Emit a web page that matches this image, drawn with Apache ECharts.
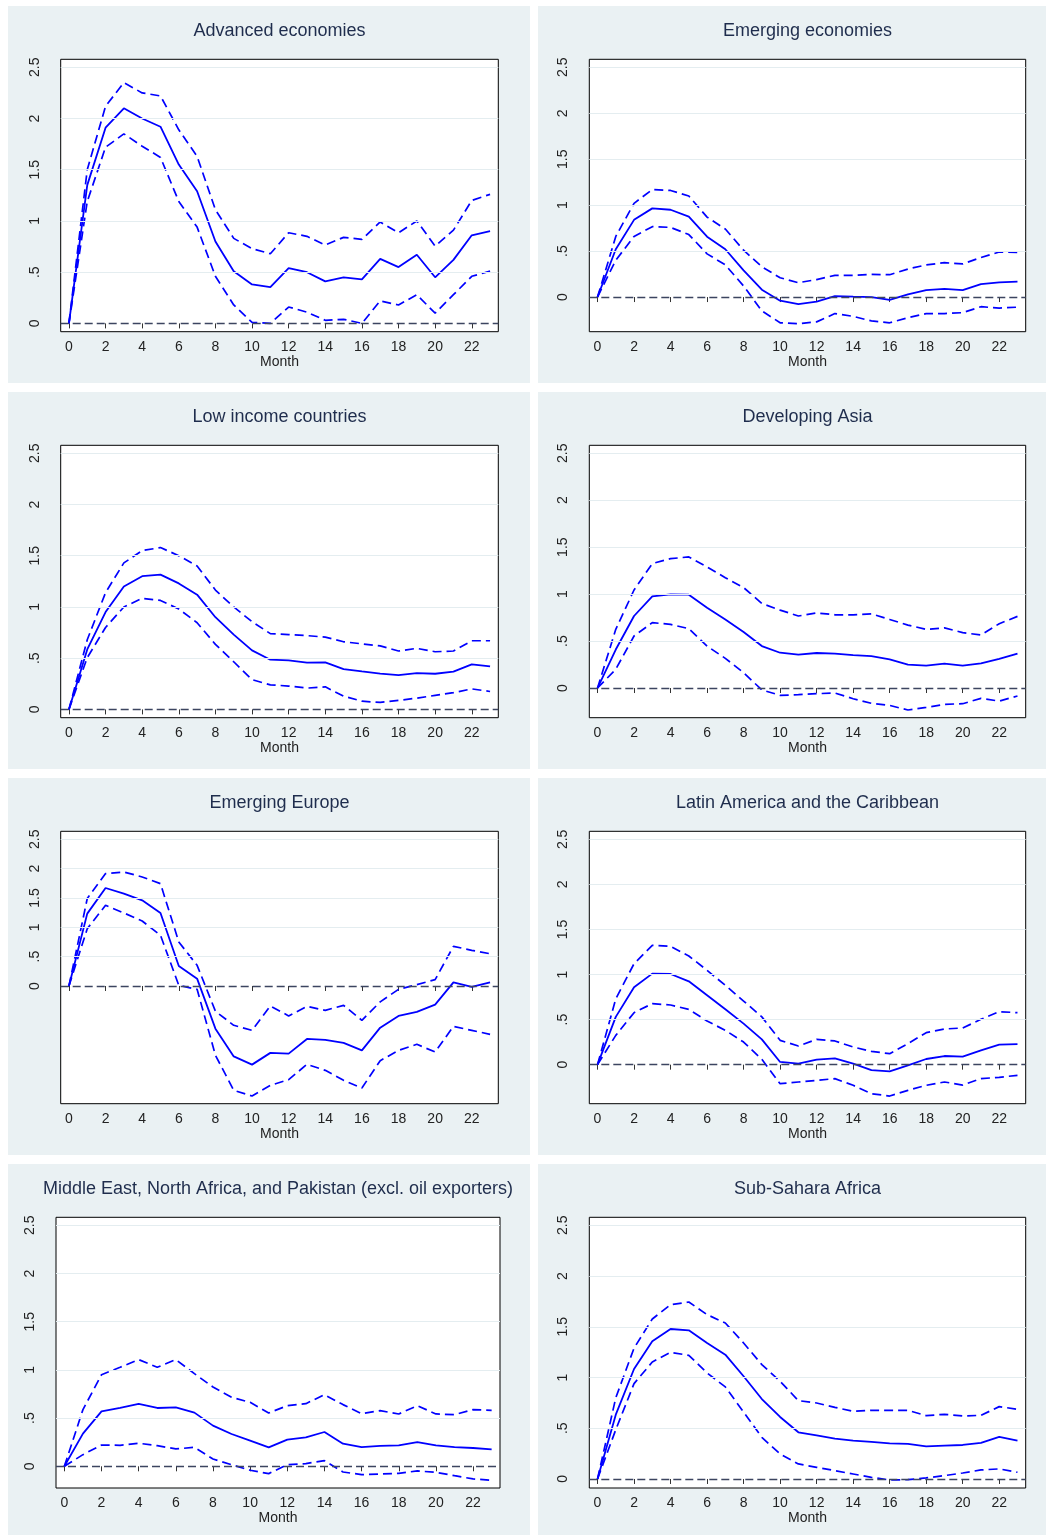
<!DOCTYPE html>
<html>
<head>
<meta charset="utf-8">
<script src="https://cdn.jsdelivr.net/npm/echarts@6/dist/echarts.min.js"></script>
<style>
  html, body { margin: 0; padding: 0; background: #ffffff; }
  #wrap { position: relative; width: 1046px; height: 1535px; }
  .panel { position: absolute; background: #eaf1f3; }
  #chart { position: absolute; left: 0; top: 0; width: 1046px; height: 1535px; }
</style>
</head>
<body>
<div id="wrap"><div id="chart"></div></div>
<script>
// ---------------- DATA ----------------
const months = [0,1,2,3,4,5,6,7,8,9,10,11,12,13,14,15,16,17,18,19,20,21,22,23];
const xTickValues = [0,2,4,6,8,10,12,14,16,18,20,22];
const yTickValues = [0,0.5,1,1.5,2,2.5];
const xAxisTitle = 'Month';

const panelTitles = [
  'Advanced economies',
  'Emerging economies',
  'Low income countries',
  'Developing Asia',
  'Emerging Europe',
  'Latin America and the Caribbean',
  'Middle East, North Africa, and Pakistan (excl. oil exporters)',
  'Sub-Sahara Africa'
];

// Advanced economies
const advPoint = [0,1.35,1.91,2.10,2.00,1.92,1.55,1.29,0.80,0.51,0.38,0.355,0.54,0.50,0.41,0.45,0.43,0.63,0.55,0.67,0.45,0.62,0.86,0.90];
const advUpper = [0,1.50,2.12,2.35,2.25,2.22,1.89,1.63,1.11,0.83,0.73,0.68,0.885,0.85,0.765,0.84,0.82,0.99,0.885,1.00,0.755,0.91,1.20,1.26];
const advLower = [0,1.19,1.72,1.85,1.73,1.62,1.19,0.94,0.46,0.18,0.01,0.00,0.16,0.11,0.03,0.04,0.00,0.22,0.18,0.28,0.10,0.28,0.46,0.51];

// Emerging economies
const emePoint = [0,0.52,0.84,0.965,0.95,0.875,0.657,0.52,0.29,0.08,-0.04,-0.076,-0.05,0.01,0.004,0.0,-0.03,0.03,0.076,0.09,0.076,0.14,0.16,0.167];
const emeUpper = [0,0.66,1.02,1.17,1.16,1.10,0.87,0.74,0.51,0.33,0.21,0.156,0.19,0.236,0.236,0.247,0.243,0.305,0.35,0.374,0.36,0.43,0.49,0.486];
const emeLower = [0,0.40,0.66,0.766,0.758,0.68,0.47,0.35,0.12,-0.15,-0.28,-0.29,-0.27,-0.18,-0.21,-0.26,-0.28,-0.225,-0.18,-0.18,-0.17,-0.105,-0.12,-0.11];

// Low income countries
const licPoint = [0,0.585,0.95,1.20,1.30,1.315,1.23,1.12,0.90,0.73,0.576,0.485,0.478,0.456,0.459,0.394,0.371,0.35,0.335,0.355,0.348,0.368,0.44,0.42];
const licUpper = [0,0.68,1.14,1.43,1.55,1.58,1.50,1.40,1.165,1.00,0.856,0.74,0.73,0.72,0.706,0.66,0.64,0.62,0.57,0.596,0.563,0.57,0.67,0.67];
const licLower = [0,0.505,0.80,1.00,1.084,1.064,0.98,0.846,0.635,0.465,0.29,0.24,0.228,0.208,0.22,0.13,0.08,0.068,0.088,0.11,0.137,0.163,0.20,0.175];

// Developing Asia
const asiaPoint = [0,0.41,0.767,0.977,0.998,0.994,0.856,0.73,0.597,0.447,0.376,0.355,0.373,0.366,0.35,0.34,0.305,0.25,0.238,0.26,0.238,0.263,0.31,0.366];
const asiaUpper = [0,0.625,1.044,1.325,1.378,1.396,1.29,1.175,1.07,0.90,0.83,0.767,0.80,0.78,0.78,0.79,0.73,0.67,0.625,0.64,0.59,0.565,0.685,0.763];
const asiaLower = [0,0.20,0.554,0.696,0.678,0.632,0.447,0.316,0.163,-0.02,-0.078,-0.071,-0.06,-0.053,-0.114,-0.163,-0.185,-0.234,-0.206,-0.174,-0.167,-0.11,-0.139,-0.085];

// Emerging Europe
const eurPoint = [0,1.233,1.67,1.574,1.46,1.244,0.34,0.125,-0.727,-1.20,-1.34,-1.14,-1.153,-0.903,-0.92,-0.97,-1.097,-0.71,-0.51,-0.44,-0.318,0.0625,-0.017,0.0625];
const eurUpper = [0,1.49,1.915,1.943,1.858,1.744,0.75,0.352,-0.43,-0.67,-0.756,-0.34,-0.51,-0.347,-0.415,-0.33,-0.585,-0.27,-0.057,0.023,0.108,0.676,0.608,0.55];
const eurLower = [0,0.977,1.375,1.244,1.108,0.864,0.011,-0.057,-1.18,-1.778,-1.875,-1.693,-1.597,-1.335,-1.4375,-1.608,-1.739,-1.273,-1.097,-0.994,-1.125,-0.6875,-0.756,-0.824];

// Latin America and the Caribbean
const latPoint = [0,0.53,0.858,1.01,1.006,0.925,0.77,0.614,0.455,0.28,0.03,0.011,0.055,0.07,0.011,-0.06,-0.074,-0.007,0.063,0.096,0.089,0.159,0.222,0.229];
const latUpper = [0,0.73,1.12,1.324,1.313,1.206,1.047,0.88,0.706,0.53,0.27,0.207,0.281,0.263,0.196,0.148,0.122,0.233,0.355,0.396,0.407,0.503,0.588,0.577];
const latLower = [0,0.325,0.577,0.677,0.662,0.614,0.484,0.381,0.251,0.059,-0.211,-0.192,-0.174,-0.155,-0.229,-0.322,-0.348,-0.285,-0.229,-0.192,-0.226,-0.155,-0.14,-0.118];

// Middle East, North Africa, and Pakistan
const menaPoint = [0,0.339,0.57,0.605,0.647,0.605,0.612,0.557,0.422,0.335,0.266,0.197,0.277,0.30,0.356,0.235,0.20,0.211,0.218,0.252,0.218,0.20,0.19,0.176];
const menaUpper = [0,0.588,0.95,1.027,1.107,1.027,1.107,0.961,0.823,0.716,0.664,0.553,0.629,0.65,0.743,0.64,0.546,0.577,0.543,0.629,0.543,0.536,0.588,0.581];
const menaLower = [0,0.121,0.221,0.218,0.239,0.214,0.18,0.197,0.076,0.017,-0.041,-0.076,0.017,0.028,0.059,-0.059,-0.086,-0.08,-0.073,-0.048,-0.062,-0.097,-0.131,-0.145];

// Sub-Sahara Africa
const ssaPoint = [0,0.634,1.084,1.357,1.478,1.465,1.34,1.225,1.012,0.788,0.611,0.46,0.43,0.397,0.378,0.365,0.351,0.345,0.322,0.329,0.335,0.355,0.414,0.378];
const ssaUpper = [0,0.80,1.29,1.577,1.718,1.744,1.62,1.537,1.34,1.127,0.963,0.772,0.749,0.706,0.667,0.677,0.677,0.677,0.624,0.637,0.621,0.627,0.713,0.687];
const ssaLower = [0,0.486,0.94,1.153,1.248,1.219,1.045,0.907,0.66,0.41,0.246,0.148,0.115,0.082,0.049,0.016,-0.01,-0.007,0.01,0.033,0.059,0.089,0.099,0.066];

// y-axis extents of each plot region (value units)
const yMins = [-0.081,-0.377,-0.081,-0.316,-2.006,-0.433,-0.225,-0.089];
const yMaxs = [2.578,2.587,2.578,2.585,2.636,2.589,2.583,2.579];

// ---------------- LAYOUT ----------------
const panelSeries = [
  [advPoint, advUpper, advLower],
  [emePoint, emeUpper, emeLower],
  [licPoint, licUpper, licLower],
  [asiaPoint, asiaUpper, asiaLower],
  [eurPoint, eurUpper, eurLower],
  [latPoint, latUpper, latLower],
  [menaPoint, menaUpper, menaLower],
  [ssaPoint, ssaUpper, ssaLower]
];

const panelRects = [];
const colX = [8, 538], colW = [522, 508];
const rowY = [6, 392, 778, 1164], rowH = [377, 377, 377, 371];
for (let r = 0; r < 4; r++) for (let c = 0; c < 2; c++) {
  panelRects.push({x: colX[c], y: rowY[r], w: colW[c], h: rowH[r]});
}
const wrap = document.getElementById('wrap');
panelRects.forEach(p => {
  const d = document.createElement('div');
  d.className = 'panel';
  d.style.left = p.x + 'px'; d.style.top = p.y + 'px';
  d.style.width = p.w + 'px'; d.style.height = p.h + 'px';
  wrap.insertBefore(d, wrap.firstChild);
});

const frameTops = [59.3, 445.3, 831.3, 1217.3];
const frameHs = [272.4, 272.4, 272.4, 270.7];
function frame(i) {
  const r = Math.floor(i / 2), c = i % 2;
  let left = c === 0 ? 60.7 : 589.3;
  let width = c === 0 ? 437.6 : 436.4;
  if (i === 6) { left = 56; width = 444; }
  return {left, top: frameTops[r], width, height: frameHs[r]};
}

const FONT = '"Liberation Sans", Arial, sans-serif';
const BLUE = '#0000ff';
function yFmt(v) {
  if (v === 0) return '0';
  const s = String(v);
  return s.startsWith('0.') ? s.slice(1) : s;
}

const grids = [], xAxes = [], yAxes = [], titles = [], series = [];
for (let i = 0; i < 8; i++) {
  const f = frame(i);
  grids.push({left: f.left, top: f.top, width: f.width, height: f.height,
    show: true, backgroundColor: '#ffffff', borderColor: '#000000', borderWidth: 1});
  titles.push({text: panelTitles[i], left: f.left + f.width / 2, top: f.top - 37,
    textAlign: 'center', padding: 0,
    textStyle: {fontSize: 18, fontWeight: 'normal', color: '#1f2d4d', fontFamily: FONT}});
  xAxes.push({gridIndex: i, type: 'value', min: -0.45, max: 23.45,
    axisLine: {show: false}, splitLine: {show: false},
    axisTick: {show: true, customValues: xTickValues, length: 5, lineStyle: {color: '#333'}},
    axisLabel: {customValues: xTickValues, margin: 8, fontSize: 14, color: '#222', fontFamily: FONT},
    name: xAxisTitle, nameLocation: 'middle', nameGap: 23,
    nameTextStyle: {fontSize: 14, color: '#222', fontFamily: FONT}});
  yAxes.push({gridIndex: i, type: 'value', min: yMins[i], max: yMaxs[i],
    axisLine: {show: false}, splitLine: {show: false},
    axisTick: {show: true, customValues: yTickValues, length: 5, lineStyle: {color: '#333'}},
    axisLabel: {customValues: yTickValues, rotate: 90, margin: 19, fontSize: 14, color: '#222',
      fontFamily: FONT, formatter: yFmt}});
  // gridlines + zero line
  const ml = yTickValues.filter(v => v !== 0).map(v => ({yAxis: v,
    lineStyle: {color: '#e4edf0', width: 1, type: 'solid'}}));
  ml.push({yAxis: 0, lineStyle: {color: '#3c4560', width: 1.4, type: [8, 4]}});
  series.push({type: 'line', xAxisIndex: i, yAxisIndex: i, data: [], silent: true, z: 1,
    markLine: {silent: true, symbol: 'none', label: {show: false}, animation: false, data: ml}});
  const [pt, up, lo] = panelSeries[i];
  const toXY = arr => months.map((m, k) => [m, arr[k]]);
  series.push({type: 'line', xAxisIndex: i, yAxisIndex: i, data: toXY(up), symbol: 'none', z: 3,
    lineStyle: {color: BLUE, width: 1.7, type: [9, 5]}});
  series.push({type: 'line', xAxisIndex: i, yAxisIndex: i, data: toXY(lo), symbol: 'none', z: 3,
    lineStyle: {color: BLUE, width: 1.7, type: [9, 5]}});
  series.push({type: 'line', xAxisIndex: i, yAxisIndex: i, data: toXY(pt), symbol: 'none', z: 4,
    lineStyle: {color: BLUE, width: 1.8, type: 'solid'}});
}

const chart = echarts.init(document.getElementById('chart'), null, {renderer: 'canvas'});
chart.setOption({
  animation: false,
  backgroundColor: 'transparent',
  title: titles,
  grid: grids,
  xAxis: xAxes,
  yAxis: yAxes,
  series: series
});
</script>
</body>
</html>
